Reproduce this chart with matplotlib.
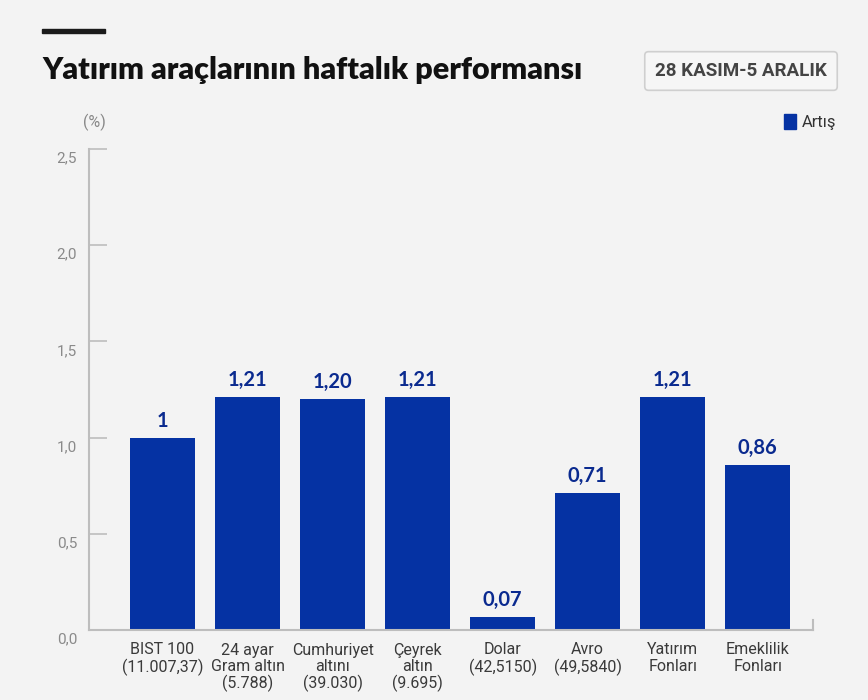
import matplotlib
matplotlib.use("Agg")
import matplotlib.pyplot as plt
import matplotlib.transforms as mtransforms
from matplotlib.patches import Rectangle

categories = ["BIST 100\n(11.007,37)", "24 ayar\nGram altın\n(5.788)", "Cumhuriyet\naltını\n(39.030)",
              "Çeyrek\naltın\n(9.695)", "Dolar\n(42,5150)", "Avro\n(49,5840)",
              "Yatırım\nFonları", "Emeklilik\nFonları"]
values = [1.00, 1.21, 1.20, 1.21, 0.07, 0.71, 1.21, 0.86]
value_labels = ["1", "1,21", "1,20", "1,21", "0,07", "0,71", "1,21", "0,86"]
yticks = [0.0, 0.5, 1.0, 1.5, 2.0, 2.5]
ytick_labels = ["0,0", "0,5", "1,0", "1,5", "2,0", "2,5"]

bg = "#f3f3f3"
blue = "#0532a3"

fig = plt.figure(figsize=(8.68, 7.0), dpi=100, facecolor=bg)
ax = fig.add_axes([89 / 868, 1 - 630 / 700, 724 / 868, 481 / 700], facecolor=bg)

x = list(range(len(values)))
ax.bar(x, values, width=0.765, color=blue, zorder=2)
for xi, v, lab in zip(x, values, value_labels):
    ax.annotate(lab, (xi, v), xytext=(0, 5), textcoords="offset points",
                ha="center", va="bottom", fontsize=14.5, fontweight="bold",
                color="#0a2a8f", family="Lato")

ax.set_xlim(-0.865, 7.65)
ax.set_ylim(0, 2.5)
ax.set_yticks(yticks)
ax.set_yticklabels(ytick_labels)
ax.set_xticks(x)
ax.set_xticklabels(categories)

ax.spines["top"].set_visible(False)
for s in ["left", "bottom", "right"]:
    ax.spines[s].set_color("#bdbdbd")
    ax.spines[s].set_linewidth(1.5)
ax.spines["right"].set_bounds(0, 0.05)

ax.tick_params(axis="y", direction="in", length=13, width=1.2, color="#bdbdbd",
               labelsize=11, labelcolor="#8a8a8a", pad=8.5)
ax.tick_params(axis="x", length=0, labelsize=11.5, labelcolor="#3a3a3a", pad=9)
for t in ax.get_yticklabels():
    t.set_family("Roboto")
    t.set_transform(t.get_transform() + mtransforms.ScaledTranslation(0, -8 / 100, fig.dpi_scale_trans))
for t in ax.get_xticklabels():
    t.set_family("Roboto")
    t.set_linespacing(1.1)

# header
fig.add_artist(Rectangle((42 / 868, 1 - 33 / 700), 63 / 868, 4 / 700, transform=fig.transFigure,
                         color="#1a1a1a"))
fig.text(42 / 868, 1 - 70 / 700, "Yatırım araçlarının haftalık performansı", fontsize=22,
         fontweight="heavy", color="#111111", va="center", ha="left", family="Lato")
fig.text(741 / 868, 1 - 71 / 700, "28 KASIM-5 ARALIK", fontsize=13.5, fontweight="bold",
         color="#444444", va="center", ha="center", family="Roboto",
         bbox=dict(boxstyle="round,pad=0.55,rounding_size=0.2", facecolor="#f6f6f6",
                   edgecolor="#cfcfcf", linewidth=1.2))
fig.text(94 / 868, 1 - 122 / 700, "(%)", fontsize=11.5, color="#888888", va="center",
         ha="center", family="Roboto")
fig.add_artist(Rectangle((784 / 868, 1 - 129 / 700), 12 / 868, 15 / 700, transform=fig.transFigure,
                         color=blue))
fig.text(802 / 868, 1 - 122 / 700, "Artış", fontsize=12, color="#333333", va="center",
         ha="left", family="Roboto")

fig.savefig("out.png", dpi=100, facecolor=bg)
